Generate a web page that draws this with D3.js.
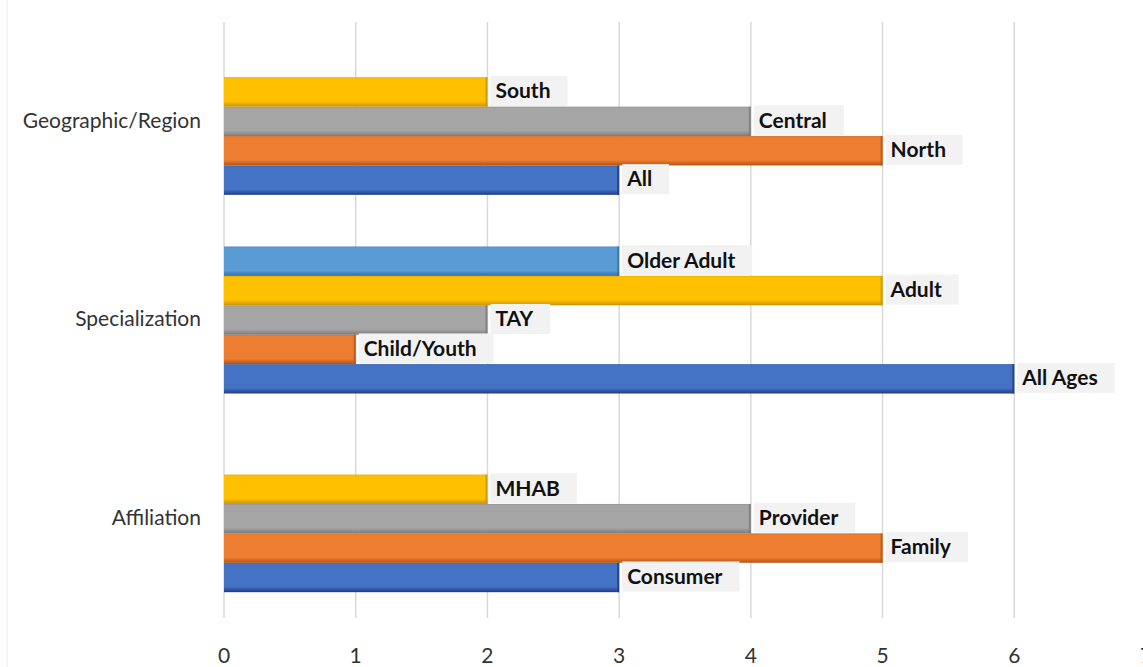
<!DOCTYPE html>
<html>
<head>
<meta charset="utf-8">
<script src="https://cdn.jsdelivr.net/npm/d3@7"></script>
<style>
html,body{margin:0;padding:0;background:#fff;}
svg{display:block;}
</style>
</head>
<body>
<svg id="chart" width="1143" height="667"></svg>
<script>
// ---- data ----
const categories = ["Geographic/Region", "Specialization", "Affiliation"];
const seriesKeys = ["s1", "s2", "s3", "s4", "s5"];
const s1Values = [3, 6, 3];
const s1Labels = ["All", "All Ages", "Consumer"];
const s2Values = [5, 1, 5];
const s2Labels = ["North", "Child/Youth", "Family"];
const s3Values = [4, 2, 4];
const s3Labels = ["Central", "TAY", "Provider"];
const s4Values = [2, 5, 2];
const s4Labels = ["South", "Adult", "MHAB"];
const s5Values = [null, 3, null];
const s5Labels = [null, "Older Adult", null];
const xTicks = [0, 1, 2, 3, 4, 5, 6, 7];

const seriesValues = [s1Values, s2Values, s3Values, s4Values, s5Values];
const seriesLabels = [s1Labels, s2Labels, s3Labels, s4Labels, s5Labels];
const fills = ["#4472C4", "#ED7D31", "#A5A5A5", "#FFC000", "#5B9BD5"];
const edges = ["#1F3A86", "#B8520F", "#7A7A7A", "#C99500", "#2F6FAF"];

const svg = d3.select("#chart");
const W = 1143, H = 667;

// faint frame line on the left
svg.append("line").attr("x1", 7).attr("x2", 7).attr("y1", 0).attr("y2", H)
  .attr("stroke", "#ececec").attr("stroke-width", 1);

const x = d3.scaleLinear().domain([0, 7]).range([224, 1146]);
const y = d3.scaleBand().domain(categories).range([22, 618])
  .paddingInner(0.26).paddingOuter(0.13);
// top slot = series 5, bottom slot = series 1
const ySub = d3.scaleBand().domain(seriesKeys.slice().reverse()).range([0, y.bandwidth()]);

// gradients
const defs = svg.append("defs");
seriesKeys.forEach((k, i) => {
  const g = defs.append("linearGradient").attr("id", "g" + k)
    .attr("x1", 0).attr("x2", 0).attr("y1", 0).attr("y2", 1);
  g.append("stop").attr("offset", "0%").attr("stop-color", d3.color(fills[i]).darker(0.25));
  g.append("stop").attr("offset", "6%").attr("stop-color", fills[i]);
  g.append("stop").attr("offset", "82%").attr("stop-color", fills[i]);
  g.append("stop").attr("offset", "100%").attr("stop-color", edges[i]);
});

// gridlines
svg.append("g").selectAll("line").data(xTicks).join("line")
  .attr("x1", d => x(d)).attr("x2", d => x(d))
  .attr("y1", 22).attr("y2", 618)
  .attr("stroke", "#d9d9d9").attr("stroke-width", 1.5);

// x tick labels
svg.append("g").selectAll("text").data(xTicks).join("text")
  .attr("x", d => x(d)).attr("y", 663)
  .attr("text-anchor", "middle")
  .attr("font-family", "Lato, 'Open Sans', sans-serif")
  .attr("font-size", 21).attr("fill", "#333333")
  .text(d => d);

// category labels
svg.append("g").selectAll("text").data(categories).join("text")
  .attr("x", 201).attr("y", d => y(d) + y.bandwidth() / 2)
  .attr("dy", "0.3em")
  .attr("text-anchor", "end")
  .attr("font-family", "Lato, 'Open Sans', sans-serif")
  .attr("font-size", 21).attr("fill", "#333333")
  .text(d => d);

// bar records
const bars = [];
seriesKeys.forEach((k, si) => {
  categories.forEach((c, ci) => {
    const v = seriesValues[si][ci];
    if (v == null) return;
    bars.push({ k, si, c, v, label: seriesLabels[si][ci] });
  });
});

const bh = ySub.bandwidth();
const barG = svg.append("g");
barG.selectAll("rect.bar").data(bars).join("rect")
  .attr("class", "bar")
  .attr("x", x(0))
  .attr("y", d => y(d.c) + ySub(d.k))
  .attr("width", d => x(d.v) - x(0))
  .attr("height", bh)
  .attr("fill", d => "url(#g" + d.k + ")");
// darker right edge
barG.selectAll("rect.edge").data(bars).join("rect")
  .attr("class", "edge")
  .attr("x", d => x(d.v) - 2)
  .attr("y", d => y(d.c) + ySub(d.k))
  .attr("width", 2)
  .attr("height", bh)
  .attr("fill", d => edges[d.si])
  .attr("opacity", 0.8);

// data labels
const labG = svg.append("g");
const labels = labG.selectAll("g").data(bars).join("g")
  .attr("transform", d => `translate(${x(d.v)},${y(d.c) + ySub(d.k) + bh / 2})`);
const boxes = labels.append("rect")
  .attr("fill", "#f2f2f2");
const texts = labels.append("text")
  .attr("x", 8).attr("dy", "0.3em")
  .attr("font-family", "Lato, 'Open Sans', sans-serif")
  .attr("font-weight", "bold")
  .attr("font-size", 21).attr("fill", "#111111")
  .text(d => d.label);
texts.each(function (d) { d.tw = this.getComputedTextLength(); });
boxes.attr("x", 3).attr("y", -16).attr("height", 30)
  .attr("width", d => d.tw + 22);
</script>
</body>
</html>
